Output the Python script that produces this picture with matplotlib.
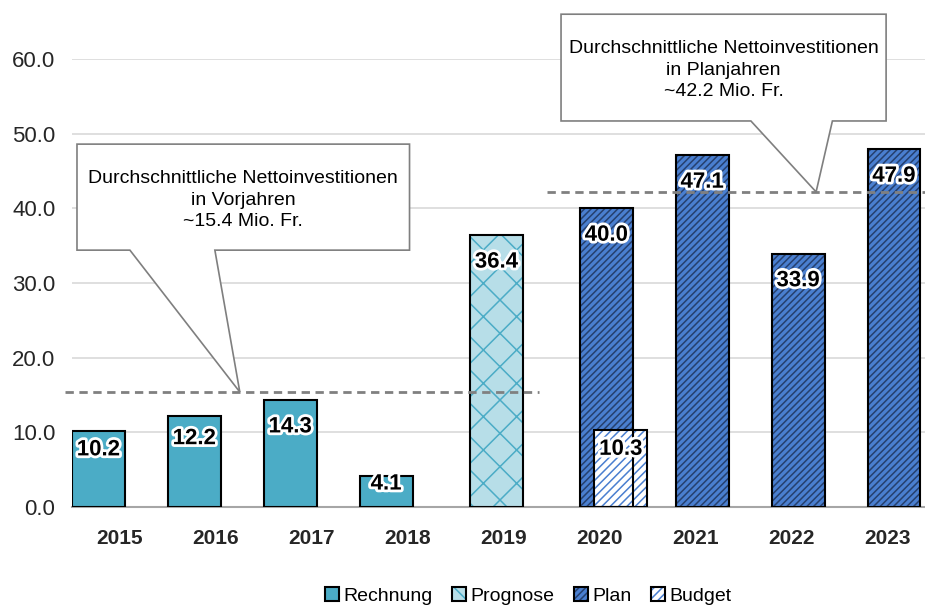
import numpy as np
import matplotlib
matplotlib.use("Agg")
import matplotlib.pyplot as plt
import matplotlib.patheffects as pe
from matplotlib.patches import Patch, Polygon
from matplotlib.legend_handler import HandlerTuple

# data
years = ['2015', '2016', '2017', '2018', '2019', '2020', '2021', '2022', '2023']
rechnung = [10.2, 12.2, 14.3, 4.1, np.nan, np.nan, np.nan, np.nan, np.nan]
prognose = [np.nan, np.nan, np.nan, np.nan, 36.4, np.nan, np.nan, np.nan, np.nan]
plan = [np.nan, np.nan, np.nan, np.nan, np.nan, 40.0, 47.1, 33.9, 47.9]
budget = [np.nan, np.nan, np.nan, np.nan, np.nan, 10.3, np.nan, np.nan, np.nan]
avg_vorjahre = 15.4
avg_plan = 42.2
note_vorjahre = 'Durchschnittliche Nettoinvestitionen\nin Vorjahren\n~15.4 Mio. Fr.'
note_plan = 'Durchschnittliche Nettoinvestitionen\nin Planjahren\n~42.2 Mio. Fr.'

plt.rcParams['font.family'] = ['Liberation Sans']
plt.rcParams['hatch.linewidth'] = 1.1

fig = plt.figure(figsize=(9.25, 6.08), dpi=100)
ax = fig.add_axes([72 / 925, 1 - 507 / 608, 863 / 925, 448 / 608])

x = np.arange(len(years))
w = 0.55
series = [
    # values, offset, fill, hatch, hatch colour, label
    (rechnung, -0.224, '#4BACC6', None, '#4BACC6', 'Rechnung'),
    (prognose, -0.073, '#B7DEE8', 'x', '#4BACC6', 'Prognose'),
    (plan, 0.073, '#4A7FD0', '/////', '#25406E', 'Plan'),
    (budget, 0.224, 'white', '////', '#4A7FD0', 'Budget'),
]

handles = []
labels = []
for vals, off, fc, hatch, hc, lab in series:
    v = np.array(vals, dtype=float)
    ax.bar(x + off, v, w, color=fc, hatch=hatch, edgecolor=hc, linewidth=0, zorder=2)
    ax.bar(x + off, v, w, fill=False, edgecolor='black', linewidth=1.5, zorder=3)
    for xi, vi in zip(x + off, v):
        if np.isnan(vi):
            continue
        ax.text(xi, max(vi - 3.6, vi * 0.75), f'{vi:.1f}', ha='center', va='center',
                fontsize=16, fontweight='bold', color='black', zorder=5,
                path_effects=[pe.withStroke(linewidth=4, foreground='white')])
    handles.append((Patch(facecolor=fc, hatch=hatch, edgecolor=hc, linewidth=0),
                    Patch(fill=False, edgecolor='black', linewidth=1.5)))
    labels.append(lab)

# average lines
ax.plot([-0.57, 4.375], [avg_vorjahre] * 2, ls=(0, (3, 2)), color='#808080', lw=2, zorder=4, clip_on=False)
ax.plot([4.45, 8.6], [avg_plan] * 2, ls=(0, (3, 2)), color='#808080', lw=2, zorder=4, clip_on=False)

# callout boxes
def callout(x0, x1, y0, y1, b0, b1, tip, text, ty):
    verts = [(x0, y1), (x1, y1), (x1, y0), (b1, y0), tip, (b0, y0), (x0, y0)]
    ax.add_patch(Polygon(verts, closed=True, facecolor='white', edgecolor='#7F7F7F',
                         linewidth=1.2, zorder=6, clip_on=False))
    ax.text((x0 + x1) / 2, ty, text, ha='center', va='center', fontsize=14,
            linespacing=1.35, zorder=7, clip_on=False)

callout(-0.448, 3.02, 34.4, 48.6, 0.104, 0.99, (1.25, avg_vorjahre), note_vorjahre, 41.1)
callout(4.60, 7.99, 51.7, 66.0, 6.58, 7.43, (7.26, avg_plan), note_plan, 58.5)

ax.set_xlim(-0.5, 8.5)
ax.set_ylim(0, 60)
ax.set_yticks(np.arange(0, 61, 10))
ax.set_yticklabels([f'{t:.1f}' for t in np.arange(0, 61, 10)])
ax.set_xticks(x)
ax.set_xticklabels(years, fontweight='bold')
ax.tick_params(axis='y', length=0, labelsize=16, labelcolor='#262626', pad=12)
ax.tick_params(axis='x', length=0, labelsize=15, labelcolor='#262626', pad=16)
ax.grid(axis='y', color='#D9D9D9', lw=1.2, zorder=0)
ax.set_axisbelow(True)
for s in ['top', 'right', 'left']:
    ax.spines[s].set_visible(False)
ax.spines['bottom'].set_color('#A6A6A6')
ax.spines['bottom'].set_linewidth(1.5)

fig.legend(handles=handles, labels=labels, handler_map={tuple: HandlerTuple(ndivide=1)},
           loc='center', bbox_to_anchor=(528 / 925, 1 - 596 / 608), ncol=4,
           frameon=False, fontsize=14, handlelength=0.75, handleheight=0.75,
           handletextpad=0.2, columnspacing=1.0)

fig.savefig('out.png', dpi=100)
